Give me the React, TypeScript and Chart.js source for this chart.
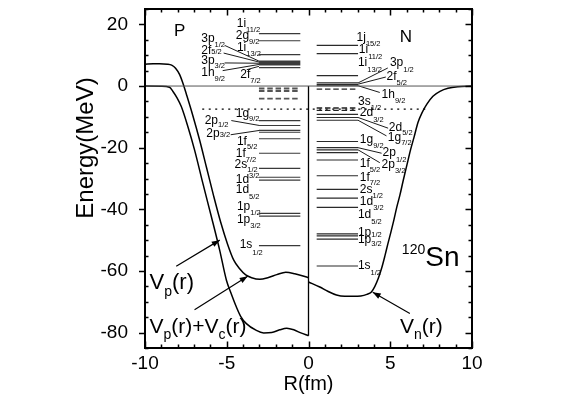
import React, { useEffect, useRef } from "react";
import { Chart, registerables } from "chart.js";
Chart.register(...registerables);

const FONT = "'Liberation Sans', Arial, sans-serif";

// ---- potentials (r in fm, E in MeV) ----
const vpcR = [-10, -9.5, -9.11, -8.62, -8.37, -8.13, -7.88, -7.67, -7.46, -7.09, -6.66, -6.23, -5.8, -5.37, -4.95, -4.58, -4.21, -3.84, -3.48, -2.98, -2.49, -1.94, -1.39, -0.84, 0];
const vpcE = [7.1, 7.2, 7.2, 7.1, 6.8, 5.8, 3.7, 0.75, -2.8, -9.3, -17.5, -26.6, -35.7, -44.2, -51.3, -56.4, -59.3, -61.3, -62.2, -62.7, -62.2, -61.2, -60.4, -60.9, -62.2];

const vpR = [-10, -9, -8.5, -8.29, -8.04, -7.78, -7.38, -6.97, -6.46, -5.94, -5.43, -5.02, -4.76, -4.41, -4.15, -3.8, -3.19, -2.74, -2.25, -1.76, -1.33, -0.9, -0.47, 0];
const vpE = [0, -0.05, -0.39, -1.76, -3.81, -6.64, -13.1, -20.7, -31.6, -42.4, -53.3, -63.0, -66.9, -71.7, -74.7, -77.1, -79.3, -80.1, -80.0, -79.1, -78.6, -79.1, -80.1, -81.0];

const vnR = [0, 0.69, 1.18, 1.71, 2.22, 2.72, 3.2, 3.57, 3.85, 4.06, 4.27, 4.49, 4.67, 4.85, 5.04, 5.22, 5.4, 5.59, 5.8, 6.02, 6.24, 6.46, 6.69, 6.94, 7.25, 7.61, 8.04, 8.53, 9.14, 10];
const vnE = [-63.6, -65.2, -66.6, -67.8, -68.2, -68.2, -68.1, -67.6, -66.8, -65.0, -62.4, -58.8, -55.2, -51.3, -47.4, -43.5, -39.3, -35.4, -30.5, -25.6, -20.7, -16.5, -11.9, -8.7, -5.8, -3.3, -1.7, -0.7, -0.2, 0];

// ---- single-particle levels (MeV) ----
const protonLevels = [17.0, 14.7, 10.2, 8.1, 7.7, 7.3, 6.9, 6.0, -11.2, -12.8, -14.4, -15.0, -17.1, -21.8, -26.7, -29.6, -30.5, -41.3, -42.2, -51.8];
const protonDashed = [-0.8, -1.6, -4.1];
const neutronLevels = [13.2, 10.5, 3.35, 1.0, 0.5, 0.1, -9.2, -10.2, -11.1, -18.0, -20.0, -20.7, -21.6, -24.0, -29.1, -33.5, -36.4, -39.4, -48.0, -48.6, -49.7, -58.4];
const neutronDashed = [-1.0, -7.1, -7.9];
const protonLevelSpan = [-3.03, -0.5];
const neutronLevelSpan = [0.5, 3.03];
const fermiLine = [-6.5, 7.2, -7.5];

// ---- axes ----
const xRange = [-10, 10];
const yRange = [-85, 25];
const xTickLabels = [-10, -5, 0, 5, 10];
const yTickLabels = [20, 0, -20, -40, -60, -80];
const xMinorStep = 1;
const yMinorStep = 5;

// ---- annotations: [main, sub, r, E, subDy] ----
const levelLabels: [string, string, number, number, number][] = [
  ["1i", "11/2", -4.39, 20.27, 6.5],
  ["2g", "9/2", -4.45, 16.37, 6.5],
  ["1i", "13/2", -4.38, 12.56, 6.5],
  ["3p", "1/2", -6.56, 15.39, 6],
  ["2f", "5/2", -6.56, 11.58, 2],
  ["3p", "3/2", -6.56, 8.23, 5.5],
  ["1h", "9/2", -6.56, 4.43, 7],
  ["2f", "7/2", -4.17, 3.68, 6],
  ["1g", "9/2", -4.45, -9.01, 5],
  ["2p", "1/2", -6.35, -11.19, 4.5],
  ["2p", "3/2", -6.25, -15.52, 1],
  ["1f", "5/2", -4.38, -18.03, 5],
  ["1f", "7/2", -4.45, -21.8, 6.5],
  ["2s", "1/2", -4.52, -25.6, 5],
  ["1d", "3/2", -4.45, -30.5, -4],
  ["1d", "5/2", -4.45, -33.7, 7],
  ["1p", "1/2", -4.38, -39.3, 6],
  ["1p", "3/2", -4.38, -43.5, 6],
  ["1s", "1/2", -4.21, -51.6, 8],
  ["1j", "15/2", 2.94, 15.62, 6.5],
  ["1i", "11/2", 3.08, 11.81, 7],
  ["1i", "13/2", 3.02, 7.48, 6.5],
  ["3p", "1/2", 4.98, 7.58, 7.5],
  ["2f", "5/2", 4.77, 3.12, 6.5],
  ["1h", "9/2", 4.47, -2.83, 6.5],
  ["3s", "1/2", 3.03, -5.01, 6.5],
  ["2d", "3/2", 3.14, -8.59, 7],
  ["2d", "5/2", 4.91, -13.67, 5],
  ["1g", "7/2", 4.85, -16.6, 5.5],
  ["1g", "9/2", 3.14, -17.47, 6],
  ["2p", "1/2", 4.53, -21.6, 7],
  ["2p", "3/2", 4.47, -25.6, 5.5],
  ["1f", "5/2", 3.14, -25.06, 6.5],
  ["1f", "7/2", 3.14, -29.6, 6],
  ["2s", "1/2", 3.14, -33.5, 7],
  ["1d", "3/2", 3.14, -37.55, 6.5],
  ["1d", "5/2", 3.02, -41.9, 6.5],
  ["1p", "1/2", 3.02, -47.6, 2.5],
  ["1p", "3/2", 3.02, -49.8, 4],
  ["1s", "1/2", 3.02, -58.4, 7],
];

const pointers: [number, number, number, number][] = [
  [-5.13, 13.2, -3.03, 8.1],
  [-5.19, 10.7, -3.03, 7.8],
  [-5.13, 7.5, -3.03, 7.4],
  [-5.25, 5.0, -3.03, 7.0],
  [-3.78, 5.3, -3.03, 6.4],
  [-4.72, -11.2, -3.0, -12.8],
  [-4.76, -15.8, -3.0, -14.4],
  [3.03, 1.0, 4.85, 5.86],
  [3.03, 0.6, 4.73, 2.93],
  [3.03, 0.1, 4.36, -2.08],
  [3.03, -10.2, 4.87, -13.67],
  [3.03, -11.1, 4.77, -16.17],
  [3.03, -20.0, 4.47, -21.8],
  [3.03, -20.7, 4.36, -24.86],
];

const arrows: [number, number, number, number][] = [
  [-8.09, -58.5, -5.43, -50.0],
  [-6.97, -72.6, -3.72, -61.7],
  [6.2, -73.8, 3.93, -66.9],
];

type Seg = { t: string; size: number; dy: number };
const bigLabels: { segs: Seg[]; r: number; E: number; align: "left" | "center" }[] = [
  { segs: [{ t: "P", size: 17, dy: 0 }], r: -7.88, E: 17.67, align: "center" },
  { segs: [{ t: "N", size: 17, dy: 0 }], r: 5.96, E: 15.72, align: "center" },
  { segs: [{ t: "120", size: 14, dy: -8.5 }, { t: "Sn", size: 28, dy: 0 }], r: 5.71, E: -56.0, align: "left" },
  { segs: [{ t: "V", size: 22, dy: 0 }, { t: "p", size: 14, dy: 8.5 }, { t: "(r)", size: 22, dy: 0 }], r: -9.72, E: -64.0, align: "left" },
  {
    segs: [
      { t: "V", size: 21, dy: 0 }, { t: "p", size: 14, dy: 8 }, { t: "(r)+V", size: 21, dy: 0 },
      { t: "c", size: 14, dy: 8 }, { t: "(r)", size: 21, dy: 0 },
    ],
    r: -9.72, E: -78.3, align: "left",
  },
  { segs: [{ t: "V", size: 21, dy: 0 }, { t: "n", size: 14, dy: 8 }, { t: "(r)", size: 21, dy: 0 }], r: 5.59, E: -78.3, align: "left" },
];

function pts(rs: number[], es: number[]) {
  return rs.map((r, i) => ({ x: r, y: es[i] }));
}
function levelSegs(levels: number[], span: number[]) {
  const out: { x: number; y: number | null }[] = [];
  levels.forEach((e) => {
    out.push({ x: span[0], y: e }, { x: span[1], y: e }, { x: span[1], y: null });
  });
  return out;
}
function lineSegs(list: [number, number, number, number][]) {
  const out: { x: number; y: number | null }[] = [];
  list.forEach(([a, b, c, d]) => {
    out.push({ x: a, y: b }, { x: c, y: d }, { x: c, y: null });
  });
  return out;
}

function drawRich(ctx: CanvasRenderingContext2D, x: number, y: number, segs: Seg[], align: string) {
  let w = 0;
  segs.forEach((s) => {
    ctx.font = `${s.size}px ${FONT}`;
    w += ctx.measureText(s.t).width;
  });
  let cx = align === "center" ? x - w / 2 : x;
  ctx.textAlign = "left";
  segs.forEach((s) => {
    ctx.font = `${s.size}px ${FONT}`;
    ctx.fillText(s.t, cx, y + s.dy);
    cx += ctx.measureText(s.t).width + (s.size < 10 ? 0 : 0);
  });
}

const overlay = {
  id: "overlay",
  afterDatasetsDraw(chart: any) {
    const { ctx, chartArea: a, scales } = chart;
    const xs = scales.x;
    const ys = scales.y;
    const px = (r: number) => xs.getPixelForValue(r);
    const py = (e: number) => ys.getPixelForValue(e);
    ctx.save();
    ctx.fillStyle = "#000";
    // arrowheads
    arrows.forEach(([r1, e1, r2, e2]) => {
      const x1 = px(r1), y1 = py(e1), x2 = px(r2), y2 = py(e2);
      const ang = Math.atan2(y2 - y1, x2 - x1);
      const L = 8, W = 3;
      const bx = x2 - L * Math.cos(ang), by = y2 - L * Math.sin(ang);
      ctx.beginPath();
      ctx.moveTo(x2, y2);
      ctx.lineTo(bx + W * Math.sin(ang), by - W * Math.cos(ang));
      ctx.lineTo(bx - W * Math.sin(ang), by + W * Math.cos(ang));
      ctx.closePath();
      ctx.fill();
    });
    ctx.textBaseline = "middle";
    levelLabels.forEach(([m, s, r, e, dy]) => {
      drawRich(ctx, px(r), py(e), [{ t: m, size: 12, dy: 0 }, { t: s, size: 7.5, dy }], "left");
    });
    bigLabels.forEach((b) => drawRich(ctx, px(b.r), py(b.E), b.segs, b.align));
    ctx.restore();
  },
  afterDraw(chart: any) {
    const { ctx, chartArea: a, scales } = chart;
    const xs = scales.x;
    const ys = scales.y;
    ctx.save();
    ctx.strokeStyle = "#000";
    ctx.fillStyle = "#000";
    ctx.lineWidth = 2;
    ctx.strokeRect(a.left, a.top, a.right - a.left, a.bottom - a.top);
    ctx.lineWidth = 1.5;
    const majorX = new Set(xTickLabels);
    const majorY = new Set(yTickLabels);
    ctx.beginPath();
    for (let v = xRange[0]; v <= xRange[1] + 1e-9; v += xMinorStep) {
      const X = Math.round(xs.getPixelForValue(v)) + 0.5;
      const len = majorX.has(v) ? 6.5 : 3.5;
      ctx.moveTo(X, a.bottom);
      ctx.lineTo(X, a.bottom - len);
      ctx.moveTo(X, a.top);
      ctx.lineTo(X, a.top + len);
    }
    for (let v = yRange[0]; v <= yRange[1] + 1e-9; v += yMinorStep) {
      const Y = Math.round(ys.getPixelForValue(v)) + 0.5;
      const maj = majorY.has(v);
      if (maj) {
        ctx.moveTo(a.left, Y);
        ctx.lineTo(a.left - 6, Y);
        ctx.moveTo(a.right, Y);
        ctx.lineTo(a.right - 6.5, Y);
      } else {
        ctx.moveTo(a.left, Y);
        ctx.lineTo(a.left + 3.5, Y);
        ctx.moveTo(a.right, Y);
        ctx.lineTo(a.right - 3.5, Y);
      }
    }
    ctx.stroke();
    ctx.font = `19px ${FONT}`;
    ctx.textBaseline = "middle";
    ctx.textAlign = "right";
    yTickLabels.forEach((v) => ctx.fillText(String(v), a.left - 17, ys.getPixelForValue(v)));
    ctx.textAlign = "center";
    xTickLabels.forEach((v) => ctx.fillText(String(v), xs.getPixelForValue(v), a.bottom + 16));
    ctx.font = `20px ${FONT}`;
    ctx.fillText("R(fm)", xs.getPixelForValue(0), a.bottom + 36);
    ctx.save();
    ctx.translate(86, 148);
    ctx.rotate(-Math.PI / 2);
    ctx.font = `24px ${FONT}`;
    ctx.fillText("Energy(MeV)", 0, 0);
    ctx.restore();
    ctx.restore();
  },
};

export default function App() {
  const ref = useRef<HTMLCanvasElement | null>(null);
  useEffect(() => {
    if (!ref.current) return;
    const base = { pointRadius: 0, pointHoverRadius: 0, fill: false, spanGaps: false };
    const chart = new Chart(ref.current, {
      type: "line",
      data: {
        datasets: [
          { ...base, data: [{ x: xRange[0], y: 0 }, { x: xRange[1], y: 0 }], borderColor: "#555", borderWidth: 1 },
          { ...base, data: levelSegs(protonLevels, protonLevelSpan), borderColor: "#3a3a3a", borderWidth: 1.2 },
          { ...base, data: levelSegs(protonDashed, protonLevelSpan), borderColor: "#555", borderWidth: 1.8, borderDash: [5.5, 2.8] },
          { ...base, data: levelSegs(neutronLevels, neutronLevelSpan), borderColor: "#2a2a2a", borderWidth: 1.2 },
          { ...base, data: levelSegs(neutronDashed, neutronLevelSpan), borderColor: "#222", borderWidth: 1.4, borderDash: [5.5, 2.8] },
          { ...base, data: [{ x: fermiLine[0], y: fermiLine[2] }, { x: fermiLine[1], y: fermiLine[2] }], borderColor: "#000", borderWidth: 1.3, borderDash: [2, 4.5] },
          { ...base, data: lineSegs(pointers), borderColor: "#000", borderWidth: 0.9 },
          { ...base, data: lineSegs(arrows), borderColor: "#000", borderWidth: 1.2 },
          { ...base, data: [{ x: 0, y: 0 }, { x: 0, y: vpE[vpE.length - 1] }], borderColor: "#000", borderWidth: 1.3 },
          { ...base, data: pts(vpcR, vpcE), borderColor: "#000", borderWidth: 1.5, cubicInterpolationMode: "monotone" },
          { ...base, data: pts(vpR, vpE), borderColor: "#000", borderWidth: 1.5, cubicInterpolationMode: "monotone" },
          { ...base, data: pts(vnR, vnE), borderColor: "#000", borderWidth: 1.5, cubicInterpolationMode: "monotone" },
        ] as any,
      },
      options: {
        animation: false,
        responsive: false,
        devicePixelRatio: 1,
        parsing: true,
        layout: { padding: { left: 145, right: 94, top: 9, bottom: 47 } },
        plugins: { legend: { display: false }, tooltip: { enabled: false }, title: { display: false } },
        events: [],
        scales: {
          x: { type: "linear", min: xRange[0], max: xRange[1], display: false },
          y: { type: "linear", min: yRange[0], max: yRange[1], display: false },
        },
      },
      plugins: [overlay],
    });
    return () => chart.destroy();
  }, []);
  return (
    <div style={{ position: "absolute", left: 0, top: 0, width: 566, height: 395, background: "#fff" }}>
      <canvas ref={ref} width={566} height={395} style={{ display: "block", width: 566, height: 395 }} />
    </div>
  );
}
